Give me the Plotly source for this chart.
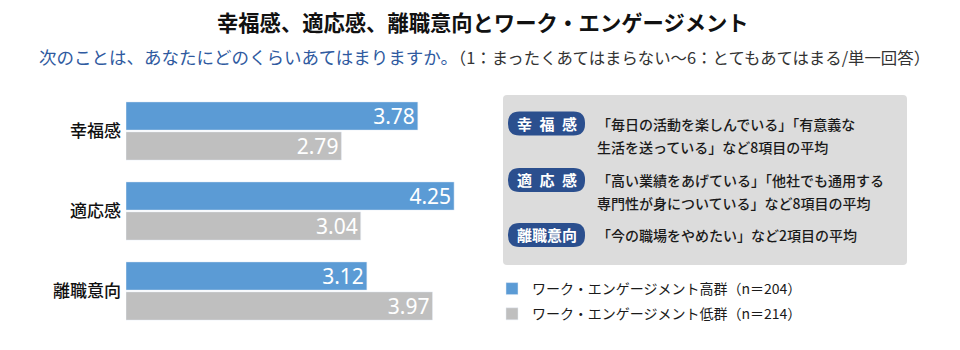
import plotly.graph_objects as go

W, H = 960, 350
FONT = "Noto Sans CJK JP"

categories = ["幸福感", "適応感", "離職意向"]
high_values = [3.78, 4.25, 3.12]
low_values = [2.79, 3.04, 3.97]
series_names = ["ワーク・エンゲージメント高群（n＝204）", "ワーク・エンゲージメント低群（n＝214）"]

title_text = "幸福感、適応感、離職意向とワーク・エンゲージメント"
subtitle_q = "次のことは、あなたにどのくらいあてはまりますか。"
subtitle_note = "（1：まったくあてはまらない～6：とてもあてはまる/単一回答）"

badges = ["幸\u2002福\u2002感", "適\u2002応\u2002感", "離職意向"]
descriptions = [
    ["「毎日の活動を楽しんでいる」「有意義な", "生活を送っている」など8項目の平均"],
    ["「高い業績をあげている」「他社でも通用する", "専門性が身についている」など8項目の平均"],
    ["「今の職場をやめたい」など2項目の平均"],
]

BLUE = "#5b9bd5"
GRAY = "#bfbfbf"
NAVY = "#2b4f8e"


def px(x):
    return x / W


def py(y):
    return 1 - y / H


def rounded_rect(x0, y0, x1, y1, r):
    pts = [
        ("M", x0 + r, y0), ("L", x1 - r, y0), ("Q", x1, y0, x1, y0 + r),
        ("L", x1, y1 - r), ("Q", x1, y1, x1 - r, y1),
        ("L", x0 + r, y1), ("Q", x0, y1, x0, y1 - r),
        ("L", x0, y0 + r), ("Q", x0, y0, x0 + r, y0),
    ]
    s = ""
    for p in pts:
        cmd = p[0]
        coords = p[1:]
        parts = []
        for i in range(0, len(coords), 2):
            parts.append(f"{px(coords[i]):.5f},{py(coords[i+1]):.5f}")
        s += cmd + " ".join(parts) + " "
    return s + "Z"


fig = go.Figure()
fig.add_trace(go.Bar(
    y=categories, x=high_values, orientation="h", name=series_names[0],
    marker=dict(color=BLUE), texttemplate="%{x:.2f}", textposition="inside",
    insidetextanchor="end", constraintext="none",
    textfont=dict(color="white", size=21, family="Noto Sans"),
    legendgroup="a", hoverinfo="skip",
))
fig.add_trace(go.Bar(
    y=categories, x=low_values, orientation="h", name=series_names[1],
    marker=dict(color=GRAY), texttemplate="%{x:.2f}", textposition="inside",
    insidetextanchor="end", constraintext="none",
    textfont=dict(color="white", size=21, family="Noto Sans"),
    legendgroup="b", hoverinfo="skip",
))

shapes = [
    dict(type="path", xref="paper", yref="paper",
         path=rounded_rect(503, 95, 907, 265, 4),
         fillcolor="#dcdcdc", line=dict(width=0), layer="below"),
]
badge_y = [123.5, 180, 235]
for yc in badge_y:
    shapes.append(dict(type="path", xref="paper", yref="paper",
                       path=rounded_rect(508, yc - 12, 585, yc + 12, 11.5),
                       fillcolor=NAVY, line=dict(width=0)))

annotations = [
    dict(text=title_text, x=px(483), y=py(22), xref="paper", yref="paper",
         xanchor="center", yanchor="middle", showarrow=False,
         font=dict(family=FONT, size=21.3, color="#111111", weight="bold")),
    dict(text=f"<span style='color:#2f5aa0'>{subtitle_q}</span>"
              f"<span style='color:#333333;font-size:16.4px'>{subtitle_note}</span>",
         x=px(37), y=py(57), xref="paper", yref="paper",
         xanchor="left", yanchor="middle", showarrow=False,
         font=dict(family=FONT, size=17.5, color="#2f5aa0")),
]
line_pitch = 23
for yc, b, lines in zip(badge_y, badges, descriptions):
    annotations.append(dict(text=b, x=px(546.5), y=py(yc), xref="paper", yref="paper",
                            xanchor="center", yanchor="middle", showarrow=False,
                            font=dict(family=FONT, size=15, color="white", weight="bold")))
    for i, ln in enumerate(lines):
        annotations.append(dict(text=ln, x=px(595), y=py(yc + i * line_pitch),
                                xref="paper", yref="paper", xanchor="left",
                                yanchor="middle", showarrow=False,
                                font=dict(family=FONT, size=14, color="#1a1a1a", weight=500)))

fig.update_layout(
    width=W, height=H, autosize=False,
    margin=dict(l=0, r=0, t=0, b=0),
    paper_bgcolor="white", plot_bgcolor="white",
    barmode="group", bargap=0.25, bargroupgap=0.06,
    xaxis=dict(domain=[px(126), px(480)], range=[0, 354 / 77.2],
               visible=False, fixedrange=True),
    yaxis=dict(domain=[py(331), py(91)], autorange="reversed",
               showgrid=False, zeroline=False, showline=False, ticks="",
               ticklabelstandoff=4,
               tickfont=dict(family=FONT, size=17, color="#111111", weight=500)),
    showlegend=True,
    legend=dict(x=px(492), y=py(273), xanchor="left", yanchor="top",
                traceorder="grouped", tracegroupgap=4,
                font=dict(family=FONT, size=14, color="#1a1a1a"),
                bgcolor="rgba(0,0,0,0)"),
    shapes=shapes, annotations=annotations,
    font=dict(family=FONT),
)

fig.write_html("out.html")
